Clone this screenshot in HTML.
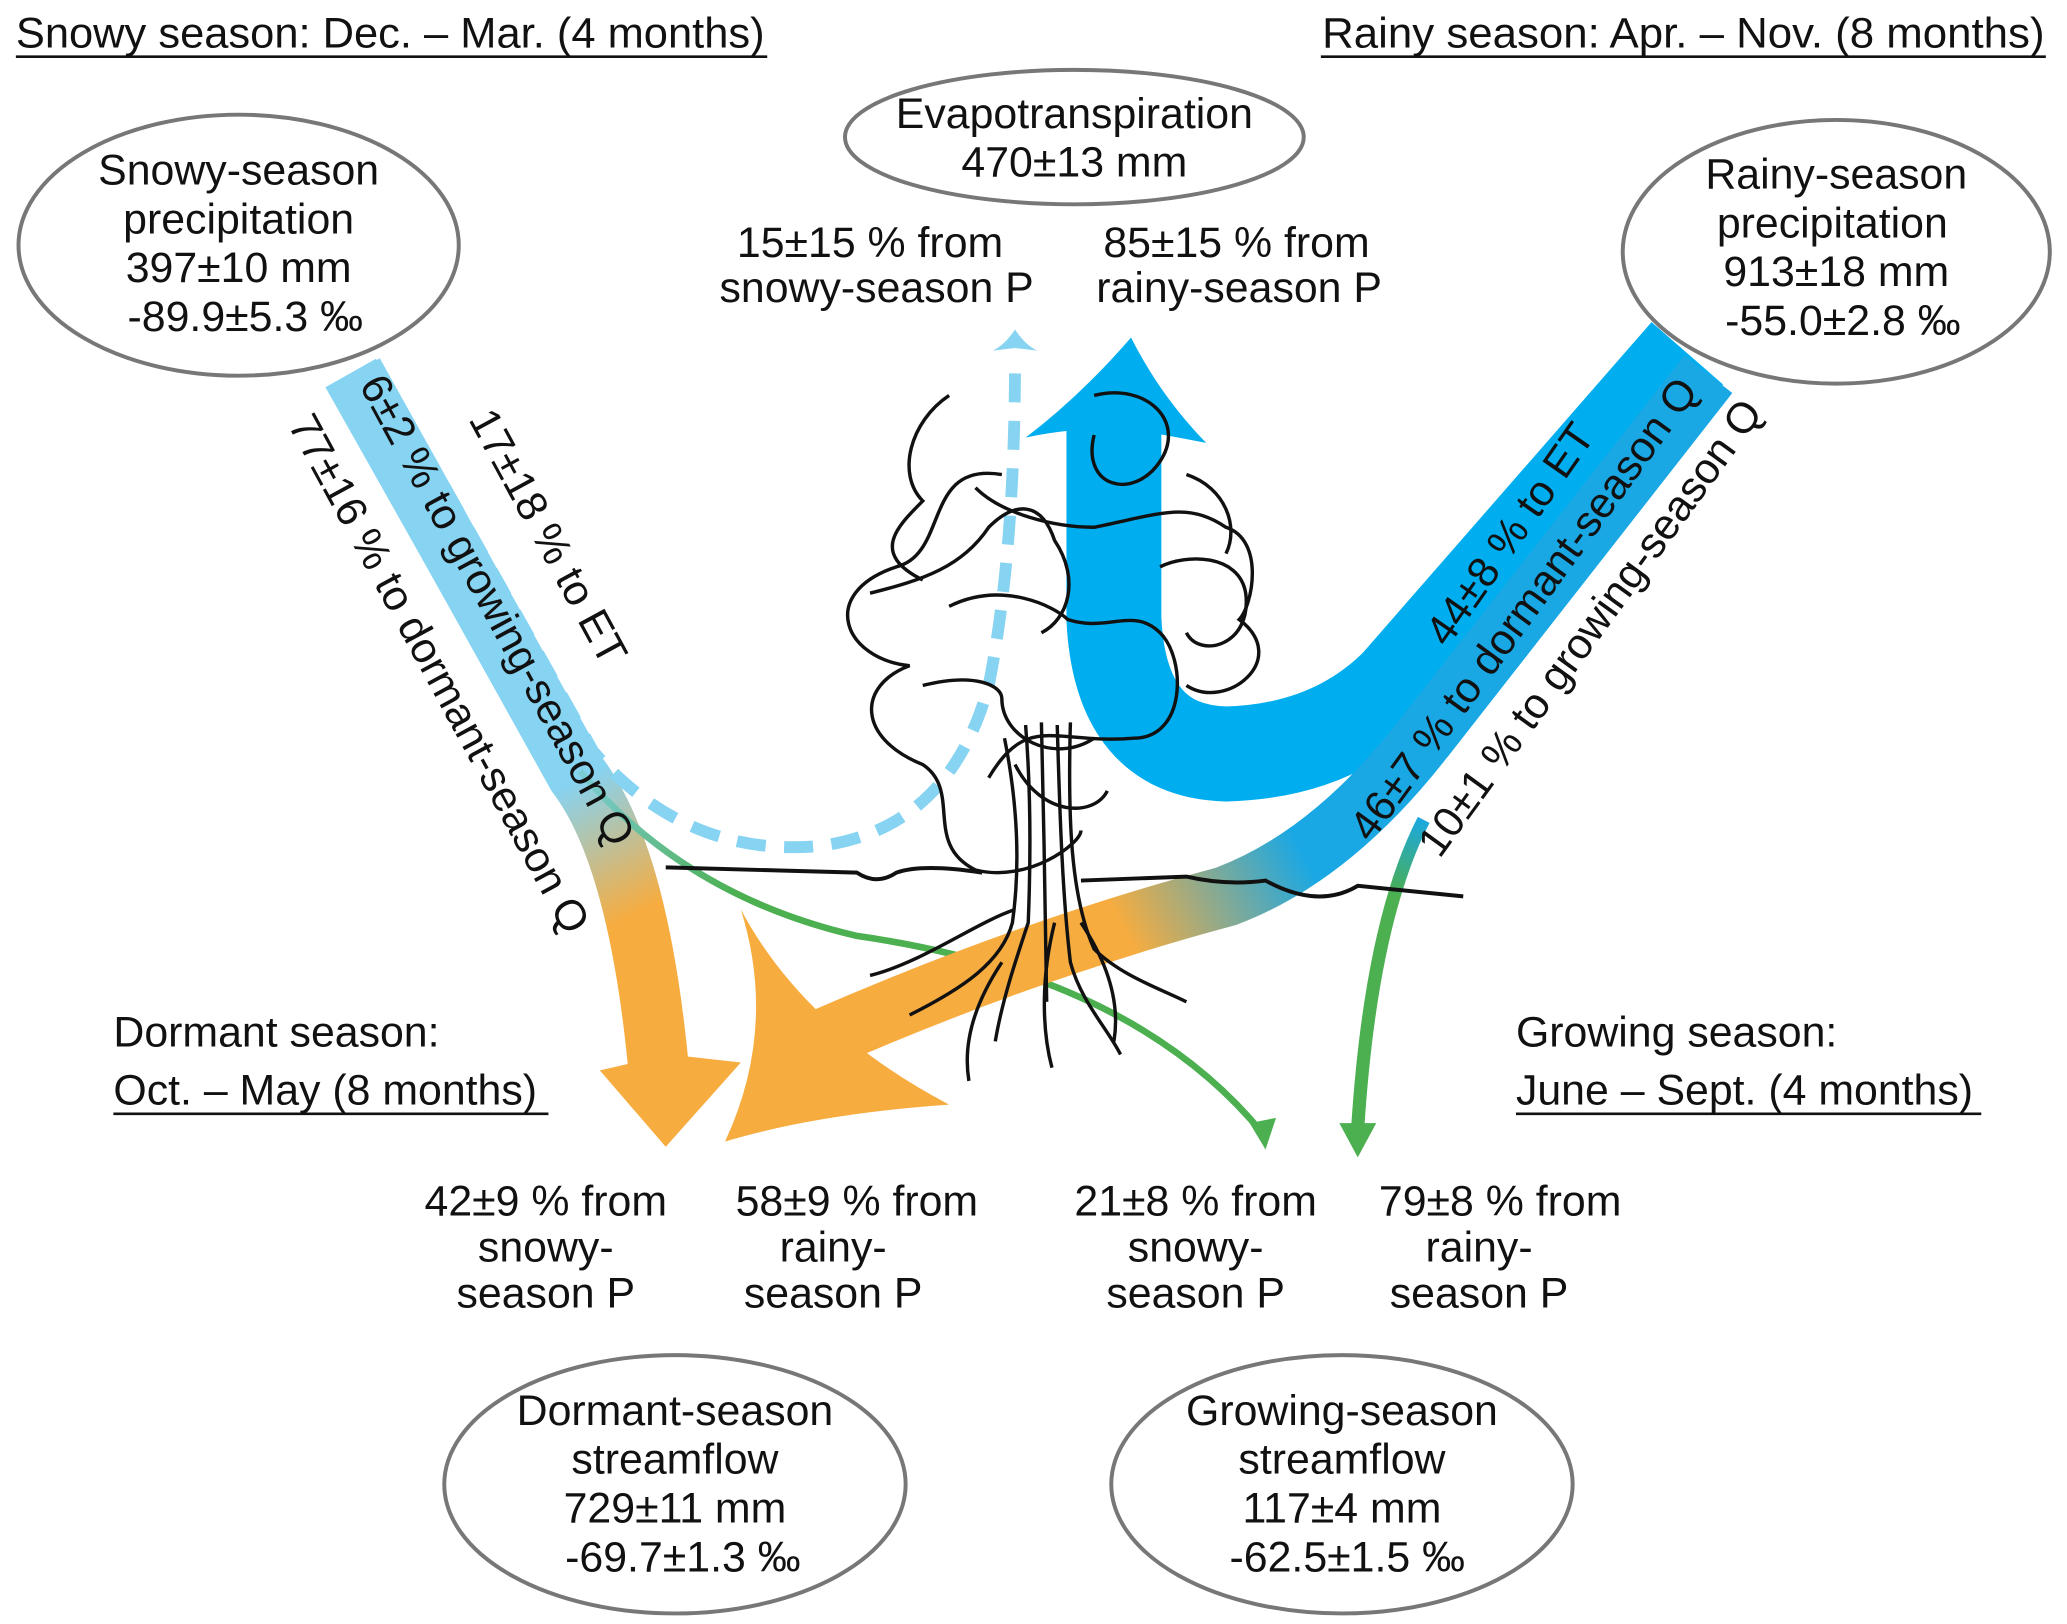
<!DOCTYPE html>
<html><head><meta charset="utf-8"><style>
html,body{margin:0;padding:0;background:#fff}
svg{display:block}
text{font-family:"Liberation Sans","DejaVu Sans",sans-serif;font-size:32.5px;fill:#111}
</style></head><body>
<svg width="2067" height="1624" viewBox="0 0 1568 1232" xmlns="http://www.w3.org/2000/svg">
<defs>
<linearGradient id="gL" x1="440" y1="590" x2="490" y2="690" gradientUnits="userSpaceOnUse">
<stop offset="0" stop-color="#86d3f2"/><stop offset="1" stop-color="#f7ac3f"/></linearGradient>
<linearGradient id="gR" x1="990" y1="650" x2="860" y2="720" gradientUnits="userSpaceOnUse">
<stop offset="0" stop-color="#1aa8e4"/><stop offset="1" stop-color="#f7ac3f"/></linearGradient>
<linearGradient id="gG" x1="420" y1="560" x2="560" y2="680" gradientUnits="userSpaceOnUse">
<stop offset="0" stop-color="#86d3f2"/><stop offset="1" stop-color="#4caf50"/></linearGradient>
<linearGradient id="gG2" x1="1080" y1="620" x2="1060" y2="680" gradientUnits="userSpaceOnUse">
<stop offset="0" stop-color="#1aa8e4"/><stop offset="1" stop-color="#4caf50"/></linearGradient>
</defs>

<!-- headers -->
<text x="12" y="36" font-size="31" textLength="568" lengthAdjust="spacingAndGlyphs">Snowy season: Dec. – Mar. (4 months)</text>
<line x1="12" y1="43" x2="582" y2="43" stroke="#111" stroke-width="2"/>
<text x="1003" y="36" font-size="31" textLength="548" lengthAdjust="spacingAndGlyphs">Rainy season: Apr. – Nov. (8 months)</text>
<line x1="1002" y1="43" x2="1552" y2="43" stroke="#111" stroke-width="2"/>

<!-- ellipses -->
<g fill="#fff" stroke="#777" stroke-width="3">
<ellipse cx="181" cy="186" rx="167" ry="99"/>
<ellipse cx="815" cy="104" rx="174" ry="51"/>
<ellipse cx="1393" cy="191" rx="162" ry="100"/>
<ellipse cx="512" cy="1126" rx="175" ry="98"/>
<ellipse cx="1018" cy="1126" rx="175" ry="98"/>
</g>
<g text-anchor="middle">
<text x="181" y="140">Snowy-season</text><text x="181" y="177">precipitation</text><text x="181" y="214">397±10 mm</text><text x="186" y="251">-89.9±5.3 ‰</text>
<text x="815" y="97">Evapotranspiration</text><text x="815" y="134">470±13 mm</text>
<text x="1393" y="143">Rainy-season</text><text x="1390" y="180">precipitation</text><text x="1393" y="217">913±18 mm</text><text x="1398" y="254">-55.0±2.8 ‰</text>
<text x="512" y="1081">Dormant-season</text><text x="512" y="1118">streamflow</text><text x="512" y="1155">729±11 mm</text><text x="518" y="1192">-69.7±1.3 ‰</text>
<text x="1018" y="1081">Growing-season</text><text x="1018" y="1118">streamflow</text><text x="1018" y="1155">117±4 mm</text><text x="1022" y="1192">-62.5±1.5 ‰</text>
<text x="660" y="195">15±15 % from</text><text x="665" y="229">snowy-season P</text>
<text x="938" y="195">85±15 % from</text><text x="940" y="229">rainy-season P</text>
<text x="414" y="922">42±9 % from</text><text x="414" y="957">snowy-</text><text x="414" y="992">season P</text>
<text x="650" y="922">58±9 % from</text><text x="632" y="957">rainy-</text><text x="632" y="992">season P</text>
<text x="907" y="922">21±8 % from</text><text x="907" y="957">snowy-</text><text x="907" y="992">season P</text>
<text x="1138" y="922">79±8 % from</text><text x="1122" y="957">rainy-</text><text x="1122" y="992">season P</text>
</g>
<text x="86" y="794">Dormant season:</text>
<text x="86" y="838">Oct. – May (8 months)</text>
<line x1="86" y1="845" x2="416" y2="845" stroke="#111" stroke-width="2"/>
<text x="1150" y="794">Growing season:</text>
<text x="1150" y="838">June – Sept. (4 months)</text>
<line x1="1150" y1="845" x2="1503" y2="845" stroke="#111" stroke-width="2"/>

<!-- left band -->
<path d="M268 283 L438 588 Q485 650 500 815" fill="none" stroke="url(#gL)" stroke-width="46"/>
<path d="M266 283 L438 588" fill="none" stroke="#86d3f2" stroke-width="44"/>
<polygon points="455,812 505,870 562,806 508,800" fill="#f7ac3f"/>
<!-- green thin -->
<path d="M440 585 Q520 680 650 710 Q860 740 958 860" fill="none" stroke="url(#gG)" stroke-width="5"/>
<polygon points="948,852 960,872 968,848" fill="#4caf50"/>
<!-- dashed light blue -->
<path d="M285 276 L450 570 Q520 650 620 642 Q720 630 750 520 Q770 420 770 270" fill="none" stroke="#86d3f2" stroke-width="9" stroke-dasharray="22 14"/>
<path d="M770 250 Q778 262 787 266 L770 264 L753 266 Q762 262 770 250Z" fill="#86d3f2"/>

<!-- right blue ET band -->
<path d="M1280 268 L1060 520 Q1010 570 930 572 Q850 570 845 470 L845 320" fill="none" stroke="#00aeef" stroke-width="72"/>
<path d="M858 256 Q880 300 915 336 Q860 325 845 325 Q810 325 778 332 Q820 300 858 256Z" fill="#00aeef"/>
<!-- right blue to dormant -->
<path d="M1295 285 L1080 560 Q1010 650 930 680 Q780 720 620 790" fill="none" stroke="url(#gR)" stroke-width="46"/>
<path d="M1296 284 L1080 560" fill="none" stroke="#1aa8e4" stroke-width="46"/>
<path d="M562 690 Q610 780 720 838 Q620 845 550 866 Q590 780 562 690Z" fill="#f7ac3f"/>
<!-- green thick -->
<path d="M1080 622 Q1040 700 1030 855" fill="none" stroke="url(#gG2)" stroke-width="10"/>
<polygon points="1016,852 1030,878 1044,852" fill="#4caf50"/>

<!-- ground lines -->
<path d="M505 658 L650 662 Q665 672 680 662 Q700 655 745 662" fill="none" stroke="#111" stroke-width="3"/>
<path d="M820 668 L900 665 Q930 672 960 668 Q1000 690 1030 672 L1110 680" fill="none" stroke="#111" stroke-width="3"/>

<!-- tree canopy -->
<g fill="none" stroke="#111" stroke-width="2.6">
<path d="M760 360 C700 350 720 420 680 430 C620 450 640 500 690 505 C650 520 650 560 700 580 C730 600 700 640 740 660 C780 670 820 640 820 630"/>
<path d="M740 370 C760 390 800 400 830 400 C880 390 900 380 930 400 C960 410 950 460 940 470 C980 500 930 540 900 520"/>
<path d="M720 460 C760 440 800 460 810 470 C840 480 860 460 880 480 C900 500 900 560 860 560 C800 565 780 540 750 590"/>
<path d="M700 520 C740 510 760 520 760 530 C760 560 800 580 830 560"/>
<path d="M830 300 C870 290 900 320 880 350 C860 380 820 370 830 330"/>
<path d="M770 580 C790 620 830 620 840 600"/>
<path d="M660 450 C700 440 730 430 750 400 C770 380 790 380 800 410 C820 440 810 470 790 480"/>
<path d="M880 430 C900 420 940 420 945 450 C950 490 910 500 900 480"/>
<path d="M720 300 C690 320 680 360 700 380 C680 400 660 420 700 440"/>
<path d="M900 360 C930 370 940 400 930 420"/>
</g>
<!-- trunk -->
<g fill="none" stroke="#111" stroke-width="2.6">
<path d="M762 560 C770 600 775 650 768 700 C760 730 730 750 690 770"/>
<path d="M778 550 C782 600 782 650 780 700 C770 730 760 760 755 790"/>
<path d="M790 548 L792 640 L794 760"/>
<path d="M802 550 C804 620 806 680 812 730 C820 760 840 780 850 800"/>
<path d="M812 548 C810 620 812 680 830 720 C850 740 880 750 900 760"/>
<path d="M770 690 C740 700 700 730 660 740"/>
<path d="M800 700 C790 740 790 780 798 810"/>
<path d="M820 700 C840 730 850 760 845 790"/>
<path d="M760 730 C740 760 730 790 735 820"/>
</g>

<!-- rotated flow labels -->
<text transform="translate(355,318) rotate(61.5)" font-size="31">17±18 % to ET</text>
<text transform="translate(272,292) rotate(61.5)" font-size="31">6±2 % to growing-season Q</text>
<text transform="translate(218,322) rotate(61.5)" font-size="31">77±16 % to dormant-season Q</text>
<text transform="translate(1098,492) rotate(-55)" font-size="31">44±8 % to ET</text>
<text transform="translate(1040,640) rotate(-54)" font-size="31">46±7 % to dormant-season Q</text>
<text transform="translate(1092,652) rotate(-54)" font-size="31">10±1 % to growing-season Q</text>
</svg>
</body></html>
